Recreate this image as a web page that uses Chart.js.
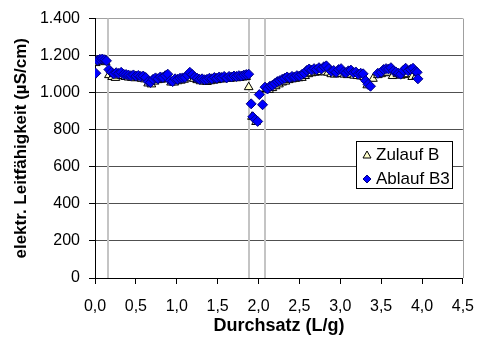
<!DOCTYPE html>
<html>
<head>
<meta charset="utf-8">
<script src="https://cdn.jsdelivr.net/npm/chart.js@4.4.1/dist/chart.umd.min.js"></script>
<style>
    html, body { margin: 0; padding: 0; background: #fff; }
    #wrap { width: 487px; height: 340px; }
</style>
</head>
<body>
<div id="wrap"><canvas id="chart" width="487" height="340"></canvas></div>
<script>
// Durchsatz (L/g) / Leitfaehigkeit (µS/cm)
const ablaufB3 = [
    [0.01, 1105], [0.03, 1175], [0.06, 1180], [0.09, 1182], [0.12, 1178], [0.14, 1172],
    [0.17, 1125], [0.20, 1110], [0.23, 1102], [0.26, 1108], [0.29, 1104], [0.32, 1110],
    [0.35, 1100], [0.38, 1098], [0.41, 1095], [0.44, 1092], [0.47, 1096], [0.50, 1090],
    [0.53, 1093], [0.56, 1088], [0.59, 1090], [0.62, 1082], [0.65, 1060], [0.68, 1055],
    [0.71, 1072], [0.74, 1080], [0.77, 1075], [0.80, 1085], [0.83, 1082], [0.86, 1092],
    [0.89, 1100], [0.92, 1065], [0.95, 1060], [0.98, 1075], [1.01, 1072], [1.04, 1078],
    [1.07, 1080], [1.10, 1082], [1.13, 1095], [1.16, 1110], [1.19, 1098], [1.22, 1085],
    [1.25, 1078], [1.28, 1072], [1.31, 1075], [1.34, 1070], [1.37, 1072], [1.40, 1078],
    [1.43, 1075], [1.46, 1082], [1.49, 1078], [1.52, 1085], [1.55, 1082], [1.58, 1088],
    [1.61, 1080], [1.64, 1088], [1.67, 1085], [1.70, 1090], [1.73, 1088], [1.76, 1092],
    [1.79, 1090], [1.82, 1095], [1.85, 1098], [1.88, 1100],
    [1.91, 940], [1.93, 870], [1.96, 855], [1.99, 845], [2.01, 990], [2.05, 935],
    [2.08, 1030], [2.11, 1020], [2.14, 1035], [2.17, 1040], [2.20, 1050], [2.23, 1060],
    [2.26, 1065], [2.29, 1072], [2.32, 1078], [2.35, 1085], [2.38, 1080], [2.41, 1088],
    [2.44, 1085], [2.47, 1092], [2.50, 1090], [2.53, 1098], [2.56, 1105], [2.59, 1120],
    [2.62, 1128], [2.65, 1122], [2.68, 1130], [2.71, 1125], [2.74, 1135], [2.77, 1128],
    [2.80, 1140], [2.83, 1145], [2.86, 1130], [2.89, 1115], [2.92, 1120], [2.95, 1110],
    [2.98, 1125], [3.01, 1130], [3.04, 1112], [3.07, 1108], [3.10, 1118], [3.13, 1122],
    [3.16, 1108], [3.19, 1112], [3.22, 1100], [3.25, 1105], [3.28, 1102], [3.31, 1065],
    [3.34, 1045], [3.37, 1035], [3.46, 1105], [3.50, 1110], [3.53, 1125], [3.56, 1130],
    [3.59, 1128], [3.62, 1135], [3.65, 1118], [3.68, 1112], [3.71, 1105], [3.74, 1100],
    [3.77, 1120], [3.80, 1132], [3.83, 1118], [3.86, 1125], [3.89, 1132], [3.92, 1115],
    [3.94, 1110], [3.95, 1075]
];

const zulaufB = [
    [0.01, 1160], [0.04, 1168], [0.07, 1170], [0.10, 1172], [0.13, 1165],
    [0.17, 1095], [0.21, 1085], [0.25, 1080], [0.29, 1092], [0.33, 1090], [0.37, 1085],
    [0.41, 1082], [0.45, 1080], [0.49, 1078], [0.53, 1080], [0.57, 1075], [0.61, 1072],
    [0.65, 1050], [0.69, 1045], [0.73, 1060], [0.77, 1068], [0.81, 1070], [0.85, 1075],
    [0.89, 1080], [0.93, 1055], [0.97, 1055], [1.01, 1062], [1.05, 1065], [1.09, 1070],
    [1.13, 1078], [1.17, 1095], [1.21, 1075], [1.25, 1068], [1.29, 1062], [1.33, 1060],
    [1.37, 1058], [1.41, 1062], [1.45, 1065], [1.49, 1068], [1.53, 1072], [1.57, 1072],
    [1.61, 1075], [1.65, 1075], [1.69, 1078], [1.73, 1078], [1.77, 1080], [1.81, 1082],
    [1.85, 1085], [1.88, 1030], [1.92, 870], [1.97, 842],
    [2.09, 1020], [2.13, 1015], [2.17, 1025], [2.21, 1035], [2.25, 1045], [2.29, 1055],
    [2.33, 1060], [2.37, 1068], [2.41, 1072], [2.45, 1075], [2.49, 1078], [2.53, 1080],
    [2.57, 1090], [2.61, 1100], [2.65, 1105], [2.69, 1108], [2.73, 1110], [2.77, 1112],
    [2.81, 1110], [2.85, 1108], [2.89, 1100], [2.93, 1098], [2.97, 1100], [3.01, 1102],
    [3.05, 1098], [3.09, 1095], [3.13, 1098], [3.17, 1092], [3.21, 1090], [3.25, 1088],
    [3.29, 1085], [3.33, 1040], [3.40, 1075], [3.46, 1095], [3.50, 1100], [3.54, 1105],
    [3.58, 1108], [3.64, 1090], [3.70, 1100], [3.74, 1092], [3.78, 1095], [3.82, 1100],
    [3.88, 1085], [3.93, 1090]
];

// graue senkrechte Linien (Durchsatz)
const markerLines = [0.16, 1.88, 2.08];

const FONT = 'Liberation Sans, Arial, sans-serif';
Chart.defaults.font.family = FONT;
Chart.defaults.color = '#000';

function toPoints(arr) {
    return arr.map(p => ({ x: p[0], y: p[1] }));
}

function formatThousands(v) {
    if (v >= 1000) {
        return Math.floor(v / 1000) + '.' + String(v % 1000).padStart(3, '0');
    }
    return String(v);
}

const extras = {
    id: 'extras',
    beforeDatasetsDraw(chart) {
        const { ctx, chartArea: a, scales: { x } } = chart;
        ctx.save();
        ctx.strokeStyle = '#c4c4c4';
        ctx.lineWidth = 2;
        markerLines.forEach(v => {
            const px = Math.round(x.getPixelForValue(v));
            ctx.beginPath();
            ctx.moveTo(px, a.top);
            ctx.lineTo(px, a.bottom);
            ctx.stroke();
        });
        // rechter Rahmen
        ctx.strokeStyle = '#a0a0a0';
        ctx.lineWidth = 1;
        ctx.beginPath();
        ctx.moveTo(Math.round(a.right) + 0.5, a.top);
        ctx.lineTo(Math.round(a.right) + 0.5, a.bottom);
        ctx.stroke();
        ctx.restore();
    },
    afterDraw(chart) {
        const ctx = chart.ctx;
        ctx.save();
        ctx.fillStyle = '#fff';
        ctx.fillRect(356, 141, 96, 47);
        ctx.strokeStyle = '#000';
        ctx.lineWidth = 1;
        ctx.strokeRect(356.5, 141.5, 96, 47);

        // Dreieck
        ctx.beginPath();
        ctx.moveTo(367, 151);
        ctx.lineTo(371, 158);
        ctx.lineTo(363, 158);
        ctx.closePath();
        ctx.fillStyle = '#ffffcc';
        ctx.fill();
        ctx.strokeStyle = '#000';
        ctx.stroke();

        // Raute
        ctx.beginPath();
        ctx.moveTo(367, 175);
        ctx.lineTo(371, 179);
        ctx.lineTo(367, 183);
        ctx.lineTo(363, 179);
        ctx.closePath();
        ctx.fillStyle = '#0000ff';
        ctx.fill();
        ctx.strokeStyle = '#000080';
        ctx.stroke();

        ctx.fillStyle = '#000';
        ctx.font = '17px ' + FONT;
        ctx.textBaseline = 'middle';
        ctx.fillText('Zulauf B', 376, 155);
        ctx.fillText('Ablauf B3', 376, 179);
        ctx.restore();
    }
};

new Chart(document.getElementById('chart').getContext('2d'), {
    type: 'scatter',
    data: {
        datasets: [{
            label: 'Ablauf B3',
            data: toPoints(ablaufB3),
            pointStyle: 'rectRot',
            pointRadius: 5,
            pointBackgroundColor: '#0000ff',
            pointBorderColor: '#000080',
            pointBorderWidth: 1,
            pointHoverRadius: 5
        }, {
            label: 'Zulauf B',
            data: toPoints(zulaufB),
            pointStyle: 'triangle',
            pointRadius: 5,
            pointBackgroundColor: '#ffffcc',
            pointBorderColor: '#000',
            pointBorderWidth: 1,
            pointHoverRadius: 5
        }]
    },
    options: {
        responsive: false,
        animation: false,
        layout: { padding: { top: 13, right: 19, left: 0, bottom: 0 } },
        plugins: {
            legend: { display: false },
            tooltip: { enabled: false }
        },
        scales: {
            x: {
                type: 'linear',
                min: 0,
                max: 4.5,
                ticks: {
                    stepSize: 0.5,
                    maxRotation: 0,
                    autoSkip: false,
                    padding: 13,
                    font: { size: 16 },
                    callback: v => v.toFixed(1).replace('.', ',')
                },
                grid: { drawOnChartArea: false, tickColor: '#000', tickLength: 6 },
                border: { color: '#000' },
                title: {
                    display: true,
                    text: 'Durchsatz (L/g)',
                    font: { size: 18, weight: 'bold' },
                    padding: { top: 0, bottom: 3 }
                },
                afterFit(s) { s.height = 62; }
            },
            y: {
                min: 0,
                max: 1400,
                ticks: {
                    stepSize: 200,
                    padding: 9,
                    font: { size: 16 },
                    callback: v => formatThousands(v)
                },
                grid: {
                    color: c => (c.tick && c.tick.value === 1400) ? '#a0a0a0' : '#505050',
                    tickColor: '#000',
                    tickLength: 6
                },
                border: { color: '#000' },
                title: {
                    display: true,
                    text: 'elektr. Leitfähigkeit (µS/cm)',
                    font: { size: 17, weight: 'bold' },
                    padding: { top: 11, bottom: 0 }
                },
                afterFit(s) { s.width = 95; }
            }
        }
    },
    plugins: [extras]
});
</script>
</body>
</html>
